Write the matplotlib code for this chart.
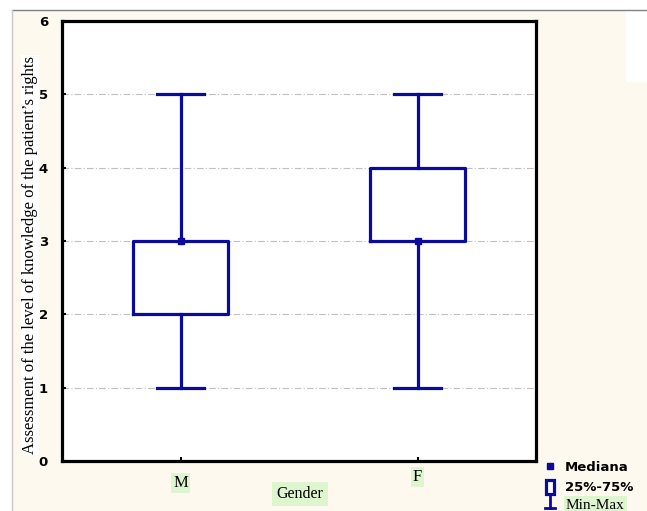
import matplotlib.pyplot as plt
from matplotlib.patches import Rectangle
from matplotlib.lines import Line2D

# dane
groups = ["M", "F"]
mins = [1, 1]
q1 = [2, 3]
medians = [3, 3]
q3 = [3, 4]
maxs = [5, 5]

BLUE = "#0a0a9e"
CREAM = "#fdf9ee"
GREEN = "#dff5cf"
W, H = 647, 511

fig = plt.figure(figsize=(W / 100, H / 100), dpi=100, facecolor="white")

# tlo
fig.patches.append(Rectangle((12 / W, 0), 1, 1 - 10 / H, transform=fig.transFigure,
                             facecolor=CREAM, edgecolor="none", zorder=-10))
fig.patches.append(Rectangle((626 / W, 1 - 82 / H), 1, 1, transform=fig.transFigure,
                             facecolor="white", edgecolor="none", zorder=-9))
fig.lines.append(Line2D([12 / W, 1], [1 - 10 / H] * 2, transform=fig.transFigure,
                        color="#808080", lw=1))
fig.lines.append(Line2D([12 / W] * 2, [0, 1 - 10 / H], transform=fig.transFigure,
                        color="#c8c8c8", lw=1))

ax = fig.add_axes([62 / W, 1 - 461 / H, (536 - 62) / W, (461 - 21) / H])
ax.set_facecolor("white")

stats = [
    {"med": m, "q1": a, "q3": b, "whislo": lo, "whishi": hi, "fliers": [], "label": g}
    for g, lo, a, m, b, hi in zip(groups, mins, q1, medians, q3, maxs)
]
lp = dict(color=BLUE, linewidth=2.3)
ax.bxp(stats, positions=[1, 2], widths=0.4, capwidths=0.2, showfliers=False,
       boxprops=lp, whiskerprops=lp, capprops=lp,
       medianprops=dict(linestyle="none"), manage_ticks=False)
ax.plot([1, 2], medians, "s", color=BLUE, markersize=4, linestyle="none", zorder=5)

ax.set_xlim(0.5, 2.5)
ax.set_ylim(0, 6)
ax.set_yticks(range(0, 7))
ax.set_yticklabels([str(i) for i in range(0, 7)], fontweight="bold", fontsize=9.5)
ax.set_xticks([1, 2])
ax.set_xticklabels([])
for y in range(1, 6):
    ax.axhline(y, color="#c0c0c0", lw=0.8, linestyle=(0, (6, 2, 1, 2)), zorder=0)

for s in ax.spines.values():
    s.set_linewidth(2.3)
ax.tick_params(direction="in", length=3, width=1.5, pad=10)

# etykiety osi x
ax.text(1, -0.3, "M", ha="center", va="center", fontsize=12, family="Liberation Serif",
        bbox=dict(facecolor=GREEN, edgecolor="none", pad=1.5))
ax.text(2, -0.22, "F", ha="center", va="center", fontsize=12, family="Liberation Serif",
        bbox=dict(facecolor=GREEN, edgecolor="none", pad=1.5))
fig.text(300 / W, 1 - 494 / H, "Gender", ha="center", va="center", fontsize=11.5,
         family="Liberation Serif", bbox=dict(facecolor=GREEN, edgecolor="none", pad=3))
fig.text(30 / W, 1 - 255 / H, "Assessment of the level of knowledge of the patient’s rights",
         rotation=90, ha="center", va="center", fontsize=12, family="Liberation Serif",
         bbox=dict(facecolor="white", edgecolor="none", pad=0.5))

# legenda
fig.lines.append(Line2D([550 / W], [1 - 466 / H], transform=fig.transFigure, marker="s",
                        markersize=4, color=BLUE, linestyle="none"))
fig.text(565 / W, 1 - 467 / H, "Mediana", fontsize=9.5, fontweight="bold", va="center")
fig.patches.append(Rectangle((546 / W, 1 - 494 / H), 8 / W, 14 / H, transform=fig.transFigure,
                             facecolor="white", edgecolor=BLUE, lw=2.3))
fig.text(565 / W, 1 - 487 / H, "25%-75%", fontsize=9.5, fontweight="bold", va="center")
fig.lines.append(Line2D([550 / W] * 2, [1 - 496 / H, 1 - 508 / H], transform=fig.transFigure,
                        color=BLUE, lw=2))
fig.lines.append(Line2D([545 / W, 555 / W], [1 - 508 / H] * 2, transform=fig.transFigure,
                        color=BLUE, lw=2))
fig.text(566 / W, 1 - 505 / H, "Min-Max", fontsize=11, family="Liberation Serif", va="center",
         bbox=dict(facecolor=GREEN, edgecolor="none", pad=1.5))

fig.savefig("out.png", dpi=100)
